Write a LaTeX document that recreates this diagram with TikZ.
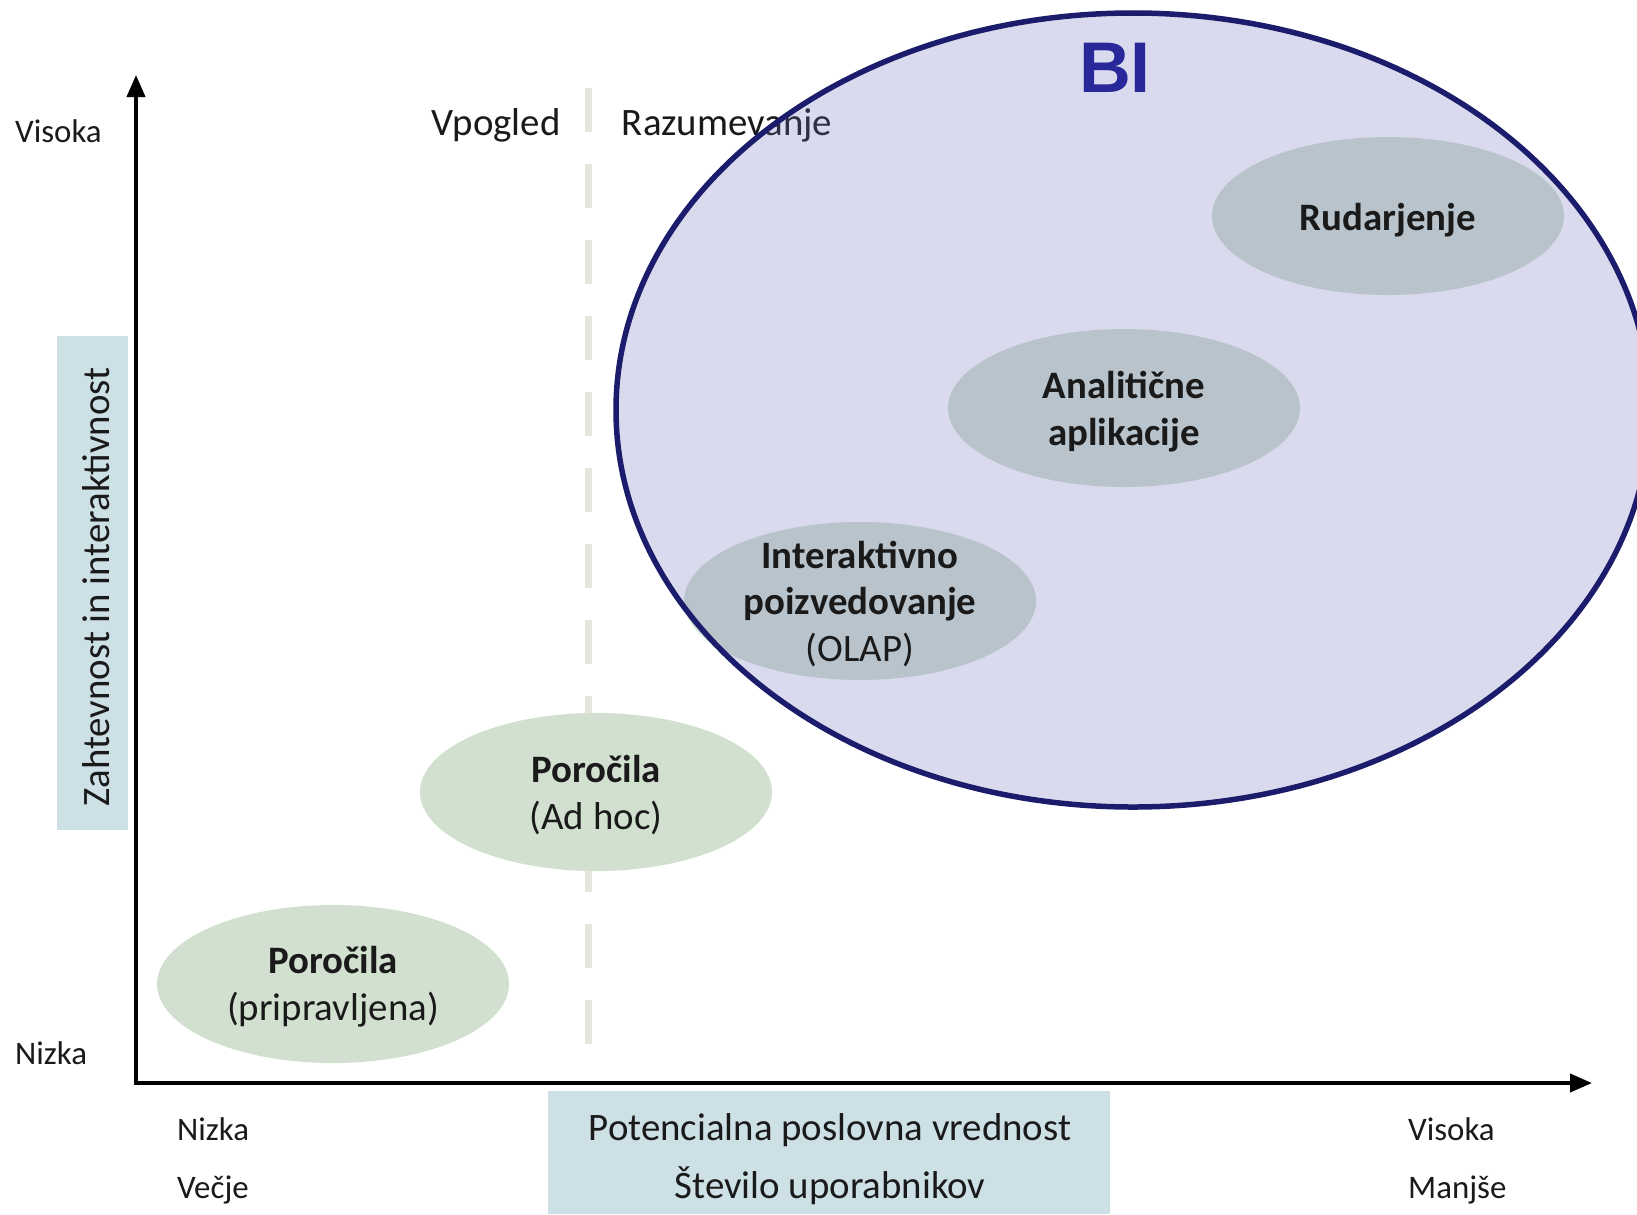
\documentclass[tikz,border=0pt]{standalone}
\usepackage{fontspec}
\setmainfont{Carlito}
\newfontfamily\bifont{Liberation Sans}
\usetikzlibrary{shapes.geometric,arrows.meta}
\definecolor{axisblue}{HTML}{CDE0E6}
\definecolor{bubblegreen}{HTML}{D2E0D0}
\definecolor{binavy}{HTML}{1C1C6C}
\definecolor{bitext}{HTML}{28289A}
\definecolor{bifill}{HTML}{6E6EBE}
\definecolor{divcol}{HTML}{E5E5DA}
\definecolor{txt}{HTML}{1A1A1A}
\tikzset{
  axisline/.style={line width=4bp, black, -{Triangle[length=22bp,width=18bp]}},
  divider/.style={line width=7bp, divcol, dash pattern=on 44bp off 32bp},
  bubble/.style={ellipse, fill=bubblegreen, draw=none, minimum width=352bp, minimum height=158bp, inner sep=0pt},
  bigoval/.style={ellipse, draw=binavy, line width=5.5bp, fill=bifill, fill opacity=0.25, minimum width=1034bp, minimum height=794bp, inner sep=0pt},
  bigtxt/.style={font=\fontsize{39}{47}\selectfont, text=txt, align=center, inner sep=0pt},
  smalltxt/.style={font=\fontsize{33}{40}\selectfont, text=txt, inner sep=0pt},
  bandbox/.style={fill=axisblue, draw=none},
}
\begin{document}
\begin{tikzpicture}[x=1bp,y=-1bp]
\useasboundingbox (0,0) rectangle (1637,1214);
\clip (0,0) rectangle (1637,1214);
\fill[white] (0,0) rectangle (1637,1214);

% blue bands behind axis titles
\node[bandbox, minimum width=71bp, minimum height=494bp, inner sep=0pt] (ybox) at (92.5,583) {};
\node[bandbox, minimum width=562bp, minimum height=123bp, inner sep=0pt] (xbox) at (829,1152.5) {};

% divider
\coordinate (dtop) at (588,88);
\coordinate (dbot) at (588,1070);
\draw[divider] (dtop) -- (dbot);

% axes
\coordinate (o) at (136,1083);
\coordinate (ytip) at (136,75);
\coordinate (xtip) at (1592,1083);
\draw[axisline] ([yshift=2bp]o) -- (ytip);
\draw[axisline] ([xshift=-2bp]o) -- (xtip);

% labels
\node[bigtxt, anchor=center] (vpog) at (496,125) {Vpogled};
\node[bigtxt, anchor=center] (razu) at (727,125) {Razumevanje};
\node[smalltxt, anchor=west] (yhigh) at (15,131) {Visoka};
\node[smalltxt, anchor=west] (ylow) at (15,1053) {Nizka};
\node[smalltxt, anchor=west] (xlow1) at (177,1129) {Nizka};
\node[smalltxt, anchor=west] (xlow2) at (177,1190) {Večje};
\node[smalltxt, anchor=west] (xhigh1) at (1408,1129) {Visoka};
\node[smalltxt, anchor=west] (xhigh2) at (1408,1190) {Manjše};
\node[bigtxt, rotate=90] (ytitle) at (96,587) {Zahtevnost in interaktivnost};
\node[font=\fontsize{39}{58}\selectfont, text=txt, align=center, inner sep=0pt] (xtitle) at (830,1159) {Potencialna poslovna vrednost\\Število uporabnikov};

% bubbles
\node[bubble] (rud) at (1388,216) {};
\node[bubble] (ana) at (1124,408) {};
\node[bubble] (olap) at (860,601) {};
\node[bubble] (adhoc) at (596,792) {};
\node[bubble] (prip) at (333,984) {};

% BI oval
\node[bigoval] (bi) at (1133,410) {};
\node[font=\bifont\bfseries\fontsize{72}{80}\selectfont, text=bitext, inner sep=0pt] (bilabel) at (1115,68) {BI};

% bubble texts
\node[bigtxt] (rudt) at ([yshift=-4bp]rud) {\textbf{Rudarjenje}};
\node[bigtxt] (anat) at ([yshift=-4bp]ana) {\textbf{Analitične}\\\textbf{aplikacije}};
\node[bigtxt] (olapt) at ([yshift=-3bp]olap) {\textbf{Interaktivno}\\\textbf{poizvedovanje}\\(OLAP)};
\node[bigtxt] (adhoct) at ([yshift=-3bp]adhoc) {\textbf{Poročila}\\(Ad hoc)};
\node[bigtxt] (pript) at ([yshift=-3bp]prip) {\textbf{Poročila}\\(pripravljena)};
\end{tikzpicture}
\end{document}
